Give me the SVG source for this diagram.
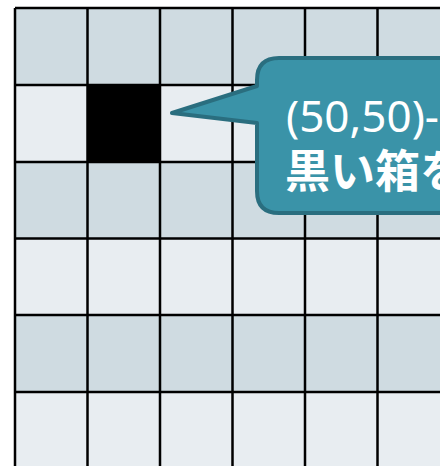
<svg xmlns="http://www.w3.org/2000/svg" width="440" height="466" viewBox="0 0 440 466">
<style>
.dark{fill:#cfdbe1}
.light{fill:#e8edf1}
.grid{stroke:#000;stroke-width:2.5;fill:none}
.callout{fill:#3a93a8;stroke:#2a6e7f;stroke-width:4;stroke-linejoin:round}
.t1{font-family:"Noto Sans","Open Sans","Noto Sans CJK JP",sans-serif;font-size:44px;fill:#fff}
.t2{font-family:"Noto Sans CJK JP",sans-serif;font-size:45px;font-weight:bold;fill:#fff}
</style>
<rect x="0" y="0" width="440" height="466" fill="#fff"/>
<g id="grid">
<rect class="dark" x="15" y="8" width="435" height="77"/>
<rect class="light" x="15" y="85" width="435" height="77"/>
<rect class="dark" x="15" y="162" width="435" height="76.5"/>
<rect class="light" x="15" y="238.5" width="435" height="76.5"/>
<rect class="dark" x="15" y="315" width="435" height="77"/>
<rect class="light" x="15" y="392" width="435" height="80"/>
<rect id="black-box" x="87.5" y="85" width="72.5" height="77" fill="#000"/>
<path class="grid" d="M15 8H450M15 85H450M15 162H450M15 238.5H450M15 315H450M15 392H450M15 8V470M87.5 8V470M160 8V470M232.5 8V470M305 8V470M377.5 8V470"/>
</g>
<g id="callout">
<path class="callout" d="M172 113 L257 86 L257 80 Q257 58 279 58 L470 58 L470 213 L279 213 Q257 213 257 191 L257 123 Z"/>
<text class="t1" x="286" y="132">(50,50)-</text>
<text class="t2" x="285" y="188">黒い箱を</text>
</g>
</svg>
